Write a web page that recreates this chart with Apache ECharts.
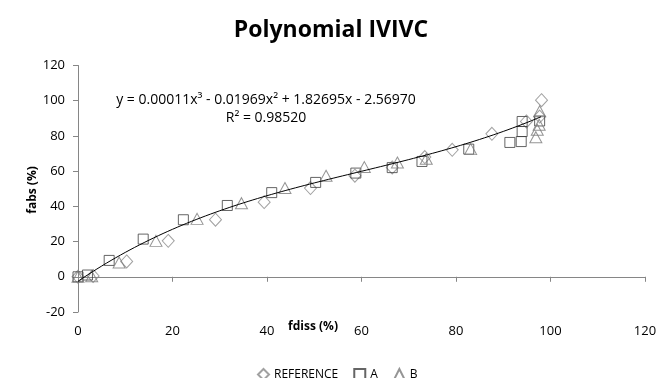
<!DOCTYPE html>
<html>
<head>
<meta charset="utf-8">
<title>Polynomial IVIVC</title>
<script src="https://cdn.jsdelivr.net/npm/echarts@6/dist/echarts.min.js"></script>
<style>
  html, body { margin: 0; padding: 0; background: #ffffff; }
  #chart { width: 660px; height: 378px; }
</style>
</head>
<body>
<div id="chart"></div>
<script>
// fdiss (%) vs fabs (%) pairs for each formulation
const referencePoints = [
  [0, 0], [3.2, 0.5], [10.3, 8.7], [19.1, 20.4], [29.1, 32.4], [39.4, 42.4],
  [49.2, 50.4], [58.6, 57.4], [66.5, 62.1], [73.4, 68.0], [79.2, 72.1],
  [87.6, 81.2], [94.9, 88.2], [97.7, 91.0], [98.1, 100.3]
];
const aPoints = [
  [0, 0], [2.0, 1.0], [6.6, 9.3], [13.8, 21.4], [22.3, 32.4], [31.6, 40.5],
  [41.0, 47.8], [50.3, 53.6], [58.8, 58.9], [66.5, 62.0], [72.8, 65.5],
  [82.7, 72.5], [91.4, 76.3], [93.8, 76.8], [94.0, 82.5], [94.0, 88.2],
  [97.7, 88.5]
];
const bPoints = [
  [0, 0], [2.9, 0.3], [8.7, 8.1], [16.5, 20.4], [25.2, 32.9], [34.6, 41.8],
  [43.8, 50.4], [52.5, 57.4], [60.6, 62.3], [67.6, 64.9], [73.7, 67.0],
  [83.1, 72.5], [96.9, 79.3], [97.2, 83.5], [97.6, 86.3], [97.7, 94.0]
];

// Fitted cubic, as printed on the chart: c3, c2, c1, c0
const fitCoefficients = [0.00011, -0.01969, 1.82695, -2.56970];
const fitLabel = 'y = 0.00011x³ - 0.01969x² + 1.82695x - 2.56970';
const fitR2Label = 'R² = 0.98520';
const fitRange = [0, 98];

const xTicks = { min: 0, max: 120, interval: 20 };
const yTicks = { min: -20, max: 120, interval: 20 };

function evalFit(x) {
  const [c3, c2, c1, c0] = fitCoefficients;
  return ((c3 * x + c2) * x + c1) * x + c0;
}
const fitLine = [];
for (let x = fitRange[0]; x <= fitRange[1]; x += 1) {
  fitLine.push([x, evalFit(x)]);
}

const font = '"Open Sans", "Noto Sans", sans-serif';
const axisGray = '#868686';

const chart = echarts.init(document.getElementById('chart'), null, { renderer: 'canvas' });

function hollow(color) {
  return { color: 'rgba(0,0,0,0)', borderColor: color, borderWidth: 1 };
}

chart.setOption({
  animation: false,
  backgroundColor: '#ffffff',
  textStyle: { fontFamily: font },
  grid: { left: 78, right: 15, top: 65.5, bottom: 66, containLabel: false },
  xAxis: {
    type: 'value',
    min: xTicks.min, max: xTicks.max, interval: xTicks.interval,
    axisLine: { show: true, onZero: true, lineStyle: { color: axisGray, width: 1 } },
    axisTick: { show: true, length: 5, lineStyle: { color: axisGray } },
    axisLabel: { color: '#000000', fontSize: 13, margin: 13, fontFamily: font },
    splitLine: { show: false }
  },
  yAxis: {
    type: 'value',
    min: yTicks.min, max: yTicks.max, interval: yTicks.interval,
    axisLine: { show: true, lineStyle: { color: axisGray, width: 1 } },
    axisTick: { show: true, length: 5, lineStyle: { color: axisGray } },
    axisLabel: { color: '#000000', fontSize: 13, margin: 13, fontFamily: font },
    splitLine: { show: false }
  },
  legend: {
    data: ['REFERENCE', 'A', 'B'],
    left: 252, top: 363,
    itemWidth: 11, itemHeight: 11, itemGap: 15,
    textStyle: { color: '#000000', fontSize: 12, fontFamily: font, padding: [0, 0, 0, 0] }
  },
  graphic: [
    {
      type: 'text', x: 331, y: 30,
      style: { text: 'Polynomial IVIVC', fontSize: 23, fontWeight: 'bold', fill: '#000000', fontFamily: font, align: 'center', verticalAlign: 'middle' }
    },
    {
      type: 'text', x: 313, y: 327,
      style: { text: 'fdiss (%)', fontSize: 12, fontWeight: 'bold', fill: '#000000', fontFamily: font, align: 'center', verticalAlign: 'middle' }
    },
    {
      type: 'text', x: 33, y: 190, rotation: Math.PI / 2,
      style: { text: 'fabs (%)', fontSize: 12, fontWeight: 'bold', fill: '#000000', fontFamily: font, align: 'center', verticalAlign: 'middle' }
    },
    {
      type: 'text', x: 266, y: 100,
      style: { text: fitLabel, fontSize: 14, fill: '#000000', fontFamily: font, align: 'center', verticalAlign: 'middle' }
    },
    {
      type: 'text', x: 266, y: 118,
      style: { text: fitR2Label, fontSize: 14, fill: '#000000', fontFamily: font, align: 'center', verticalAlign: 'middle' }
    }
  ],
  series: [
    {
      name: 'REFERENCE', type: 'scatter', data: referencePoints,
      symbol: 'diamond', symbolSize: [12, 13],
      itemStyle: hollow('#8a8a8a'), z: 3
    },
    {
      name: 'A', type: 'scatter', data: aPoints,
      symbol: 'rect', symbolSize: 10,
      itemStyle: hollow('#3f3f3f'), z: 3
    },
    {
      name: 'B', type: 'scatter', data: bPoints,
      symbol: 'triangle', symbolSize: [12, 11],
      itemStyle: hollow('#7a7a7a'), z: 3
    },
    {
      name: 'fit', type: 'line', data: fitLine,
      showSymbol: false, symbol: 'none', smooth: false,
      lineStyle: { color: '#000000', width: 1 }, z: 4,
      silent: true
    }
  ]
});
</script>
</body>
</html>
